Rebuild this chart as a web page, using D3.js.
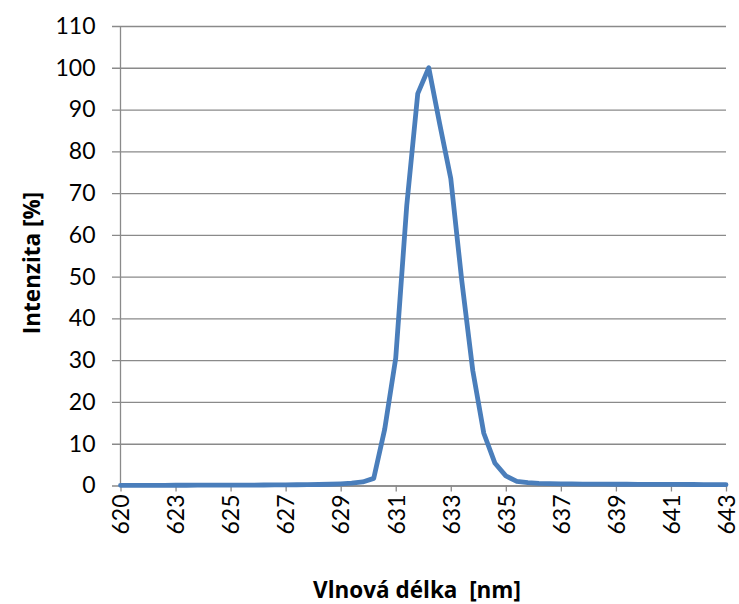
<!DOCTYPE html>
<html>
<head>
<meta charset="utf-8">
<script src="https://cdn.jsdelivr.net/npm/d3@7"></script>
<style>
  html, body { margin: 0; padding: 0; background: #fff; }
  svg { display: block; font-family: Lato, "Open Sans", sans-serif; }
</style>
</head>
<body>
<svg id="chart" width="739" height="604"></svg>
<script>
// Wavelength categories [nm] and measured relative intensity [%]
const wavelengths = [
  620.45, 620.87, 621.28, 621.70, 622.11, 622.53, 622.95, 623.36, 623.78, 624.19,
  624.61, 625.03, 625.44, 625.86, 626.27, 626.69, 627.11, 627.52, 627.94, 628.35,
  628.77, 629.19, 629.60, 630.02, 630.43, 630.85, 631.27, 631.68, 632.10, 632.51,
  632.93, 633.35, 633.76, 634.18, 634.59, 635.01, 635.43, 635.84, 636.26, 636.67,
  637.09, 637.51, 637.92, 638.34, 638.75, 639.17, 639.59, 640.00, 640.42, 640.83,
  641.25, 641.67, 642.08, 642.50, 642.91, 643.33
];
const intensity = [
  0.05, 0.05, 0.05, 0.05, 0.05, 0.06, 0.06, 0.07, 0.07, 0.08,
  0.09, 0.10, 0.11, 0.12, 0.14, 0.16, 0.18, 0.20, 0.24, 0.30,
  0.40, 0.55, 0.85, 1.7, 13.5, 30.5, 67.0, 93.8, 100.0, 86.5,
  73.5, 49.0, 27.5, 12.5, 5.4, 2.3, 1.0, 0.70, 0.50, 0.45,
  0.40, 0.38, 0.35, 0.33, 0.32, 0.30, 0.30, 0.28, 0.27, 0.26,
  0.25, 0.25, 0.24, 0.23, 0.22, 0.20
];
const yTicks = [0, 10, 20, 30, 40, 50, 60, 70, 80, 90, 100, 110];
const labelEvery = 5;

const xTitle = "Vlnová délka\u00a0\u00a0[nm]";
const yTitle = "Intenzita [%]";

const svg = d3.select("#chart");
const margin = { left: 120.5, right: 13, top: 26, bottom: 118.5 };
const W = 739, H = 604;
const innerW = W - margin.left - margin.right;
const innerH = H - margin.top - margin.bottom;

const tickFont = "Lato, 'Open Sans', sans-serif";
const titleFont = "'Open Sans', Lato, sans-serif";

const g = svg.append("g").attr("transform", `translate(${margin.left},${margin.top})`);

const idx = d3.range(wavelengths.length);
const x = d3.scalePoint().domain(idx).range([0, innerW]);
const y = d3.scaleLinear().domain([0, 110]).range([innerH, 0]);

const gridColor = "#8a8a8a";

// Horizontal gridlines, with the outward tick on the left
const yAxis = d3.axisLeft(y).tickValues(yTicks).tickSize(-innerW).tickSizeOuter(0).tickPadding(17);
const yg = g.append("g").call(yAxis);
yg.select(".domain").remove();
yg.selectAll(".tick line")
  .attr("x1", -8.5)
  .attr("x2", innerW)
  .attr("stroke", gridColor)
  .attr("stroke-width", 1.3);
yg.selectAll(".tick text")
  .attr("font-size", 23)
  .attr("fill", "#000")
  .attr("font-family", tickFont)
  .attr("x", -25);

// Vertical axis line
g.append("line")
  .attr("x1", 0).attr("x2", 0)
  .attr("y1", 0).attr("y2", innerH)
  .attr("stroke", gridColor).attr("stroke-width", 1.3);

// Category axis: a tick and a label on every fifth wavelength
const fmt = d3.format(".0f");
const xAxis = d3.axisBottom(x)
  .tickValues(idx.filter(i => i % labelEvery === 0))
  .tickFormat(i => fmt(wavelengths[i]))
  .tickSize(6).tickSizeOuter(0).tickPadding(10);
const xg = g.append("g").attr("transform", `translate(0,${innerH})`).call(xAxis);
xg.select(".domain").attr("stroke", gridColor).attr("stroke-width", 1.3);
xg.selectAll(".tick line").attr("stroke", gridColor).attr("stroke-width", 1.3);
xg.selectAll(".tick text")
  .attr("font-size", 23)
  .attr("fill", "#000")
  .attr("font-family", tickFont)
  .attr("text-anchor", "end")
  .attr("transform", "rotate(-90)")
  .attr("x", -9)
  .attr("y", 0)
  .attr("dy", "0.36em");

// Intensity trace
const line = d3.line()
  .x((d, i) => x(i))
  .y(d => y(d));
g.append("path")
  .datum(intensity)
  .attr("d", line)
  .attr("fill", "none")
  .attr("stroke", "#4a7ebb")
  .attr("stroke-width", 4.8)
  .attr("stroke-linejoin", "round")
  .attr("stroke-linecap", "round");

// Axis titles
svg.append("text")
  .attr("x", 417)
  .attr("y", 598)
  .attr("text-anchor", "middle")
  .attr("font-size", 22.5)
  .attr("font-weight", "bold")
  .attr("font-family", titleFont)
  .text(xTitle);

svg.append("text")
  .attr("transform", "translate(40,263) rotate(-90)")
  .attr("text-anchor", "middle")
  .attr("font-size", 22.5)
  .attr("font-weight", "bold")
  .attr("font-family", titleFont)
  .text(yTitle);
</script>
</body>
</html>
